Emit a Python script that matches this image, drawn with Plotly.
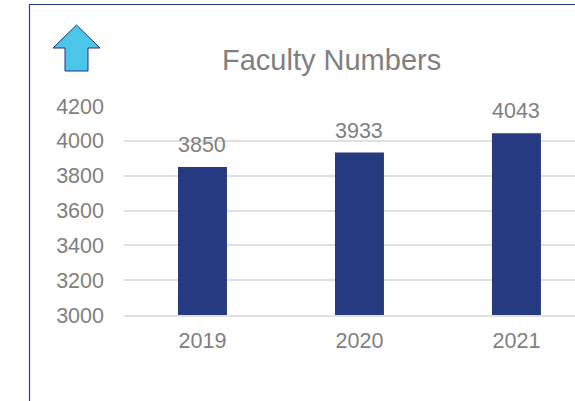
import plotly.graph_objects as go

years = ["2019", "2020", "2021"]
faculty = [3850, 3933, 4043]
y_ticks = [3000, 3200, 3400, 3600, 3800, 4000, 4200]
title_text = "Faculty Numbers"

W, H = 575, 401
L, R, T, B = 124, 575, 105, 315

def px(x):
    return (x - L) / (R - L)

def py(y):
    return (B - y) / (B - T)

FONT = "Liberation Sans, Arial, sans-serif"
GREY = "#7f7f7f"
NAVY = "#253a80"

fig = go.Figure()
fig.add_trace(go.Bar(
    x=[0, 1, 2], y=faculty, width=0.312,
    marker=dict(color=NAVY, line_width=0),
    hoverinfo="skip",
))

for i, v in enumerate(faculty):
    fig.add_annotation(x=i, y=v, text=str(v), showarrow=False, xref="x", yref="y",
                       yanchor="bottom", yshift=8, font=dict(family=FONT, size=21.5, color=GREY))

fig.add_annotation(x=px(331), y=py(60), xref="paper", yref="paper", text=title_text,
                   showarrow=False, xanchor="center", yanchor="middle",
                   font=dict(family=FONT, size=29, color=GREY))

arrow = [(76.5, 25), (100, 48), (88, 48), (88, 71), (65, 71), (65, 48), (53, 48)]
path = "M " + " L ".join(f"{px(a)},{py(b)}" for a, b in arrow) + " Z"
fig.add_shape(type="path", path=path, xref="paper", yref="paper",
              fillcolor="#4bc6e8", line=dict(color="#1f3380", width=1), layer="above")

# frame line (top and left edges)
frame = f"M {px(29.5)},{py(401)} L {px(29.5)},{py(4.5)} L {px(575)},{py(4.5)}"
fig.add_shape(type="path", path=frame, xref="paper", yref="paper",
              line=dict(color="#2f3d80", width=1.2), layer="above")

fig.update_layout(
    width=W, height=H,
    margin=dict(l=L, r=W - R, t=T, b=H - B, pad=0, autoexpand=False),
    paper_bgcolor="white", plot_bgcolor="white",
    showlegend=False,
    xaxis=dict(
        tickmode="array", tickvals=[0, 1, 2], ticktext=years,
        range=[-0.5, 2.373], showgrid=False, zeroline=False,
        showline=True, linecolor="#e0e0e0", linewidth=1.5,
        ticks="", ticklabelstandoff=5, tickfont=dict(family=FONT, size=21.5, color=GREY),
    ),
    yaxis=dict(
        range=[3000, 4205.7], tickmode="array", tickvals=y_ticks,
        showgrid=True, gridcolor="#e0e0e0", gridwidth=1.5, zeroline=False,
        showline=False, ticks="", ticklabelstandoff=19,
        tickfont=dict(family=FONT, size=21.5, color=GREY),
    ),
)

fig.write_html("out.html", config={"displayModeBar": False},
               post_script="document.body.style.margin='0';")
